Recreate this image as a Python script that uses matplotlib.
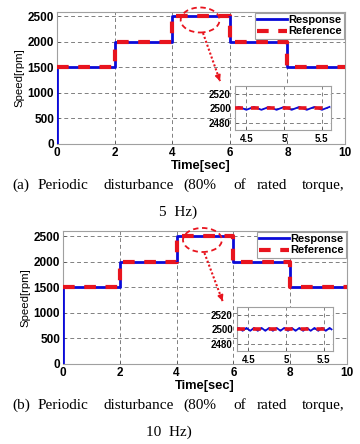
import matplotlib
matplotlib.use("Agg")
import matplotlib.pyplot as plt
from matplotlib.patches import Ellipse

# ----- data -----
ref_t = [0, 2, 2, 4, 4, 6, 6, 8, 8, 10]
ref_speed = [1500, 1500, 2000, 2000, 2500, 2500, 2000, 2000, 1500, 1500]
resp_t = [0, 0, 2, 2, 4, 4, 6, 6, 8, 8, 10]
resp_speed = [0, 1500, 1500, 2000, 2000, 2500, 2500, 2000, 2000, 1500, 1500]

# zoomed ripple around 2500 rpm (5 Hz disturbance)
zoom_t_a = [4.35, 4.40, 4.45, 4.50, 4.55, 4.60, 4.65, 4.70, 4.75, 4.80, 4.85, 4.90, 4.95,
            5.00, 5.05, 5.10, 5.15, 5.20, 5.25, 5.30, 5.35, 5.40, 5.45, 5.50, 5.55, 5.60]
zoom_v_a = [2500, 2502, 2500, 2498, 2500, 2502, 2500, 2498, 2500, 2502, 2500, 2498, 2500,
            2502, 2500, 2498, 2500, 2502, 2500, 2498, 2500, 2502, 2500, 2498, 2500, 2502]
# zoomed ripple around 2500 rpm (10 Hz disturbance)
zoom_t_b = [4.350, 4.375, 4.400, 4.425, 4.450, 4.475, 4.500, 4.525, 4.550, 4.575,
            4.600, 4.625, 4.650, 4.675, 4.700, 4.725, 4.750, 4.775, 4.800, 4.825,
            4.850, 4.875, 4.900, 4.925, 4.950, 4.975, 5.000, 5.025, 5.050, 5.075,
            5.100, 5.125, 5.150, 5.175, 5.200, 5.225, 5.250, 5.275, 5.300, 5.325,
            5.350, 5.375, 5.400, 5.425, 5.450, 5.475, 5.500, 5.525, 5.550, 5.575, 5.600]
zoom_v_b = [2500, 2502, 2500, 2498, 2500, 2502, 2500, 2498, 2500, 2502,
            2500, 2498, 2500, 2502, 2500, 2498, 2500, 2502, 2500, 2498,
            2500, 2502, 2500, 2498, 2500, 2502, 2500, 2498, 2500, 2502,
            2500, 2498, 2500, 2502, 2500, 2498, 2500, 2502, 2500, 2498,
            2500, 2502, 2500, 2498, 2500, 2502, 2500, 2498, 2500, 2502, 2500]

x_ticks = [0, 2, 4, 6, 8, 10]
y_ticks = [0, 500, 1000, 1500, 2000, 2500]
zoom_xticks = [4.5, 5, 5.5]
zoom_xlabels = ["4.5", "5", "5.5"]
zoom_yticks = [2480, 2500, 2520]

caption_words = ["Periodic", "disturbance", "(80%", "of", "rated", "torque,"]
caption_word_x = [38, 103, 183, 233, 257, 302]
captions = [("(a)", "5 Hz)"), ("(b)", "10 Hz)")]

BLUE = "#0a0ad8"
RED = "#e8141e"
FRAME = "#a0a0a0"
W, H = 360, 444

plt.rcParams["font.family"] = ["Liberation Sans", "DejaVu Sans"]

fig = plt.figure(figsize=(3.6, 4.44), dpi=100)


def px_axes(x0, y0, x1, y1):
    return fig.add_axes([x0 / W, 1 - y1 / H, (x1 - x0) / W, (y1 - y0) / H])


def style(ax, fs):
    for s in ax.spines.values():
        s.set_color(FRAME)
        s.set_linewidth(0.8)
    ax.tick_params(direction="in", length=2.5, width=0.6, color="#555555", labelsize=fs, pad=2)
    for lbl in ax.get_xticklabels() + ax.get_yticklabels():
        lbl.set_fontweight("bold")
    ax.grid(True, color="#808080", linestyle=(0, (4, 3)), linewidth=0.7)


def panel(main_box, inset_box, ylim_top, zt, zv, ell_xy, ell_wh, arr_start, arr_end):
    ax = px_axes(*main_box)
    ax.plot(resp_t, resp_speed, color=BLUE, lw=2.0, label="Response", zorder=3)
    ax.plot(ref_t, ref_speed, color=RED, lw=3.0, linestyle=(0, (2.8, 2.3)), label="Reference", zorder=4)
    ax.set_xlim(0, 10)
    ax.set_ylim(0, ylim_top)
    ax.set_xticks(x_ticks)
    ax.set_yticks(y_ticks)
    style(ax, 8.5)
    ax.set_xlabel("Time[sec]", fontsize=9.3, fontweight="bold", labelpad=1)
    ax.set_ylabel("Speed[rpm]", fontsize=8.2, labelpad=2)
    leg = ax.legend(loc="upper right", prop={"weight": "bold", "size": 8},
                    handlelength=2.7, handletextpad=0.15, borderpad=0.2, labelspacing=0.15,
                    borderaxespad=0.05, fancybox=False, framealpha=1)
    leg.get_frame().set_edgecolor(FRAME)
    leg.get_frame().set_linewidth(0.8)

    ax.add_patch(Ellipse(ell_xy, ell_wh[0], ell_wh[1], fill=False, edgecolor=RED, lw=1.3,
                         linestyle=(0, (3, 2)), clip_on=False, zorder=6))
    ax.plot([arr_start[0], arr_end[0]], [arr_start[1], arr_end[1]], color=RED, lw=1.5,
            linestyle=(0, (1, 1)), clip_on=False, zorder=6)
    ax.annotate("", xy=arr_end, xytext=(arr_end[0] - 0.06, arr_end[1] + 90),
                arrowprops=dict(arrowstyle="-|>", color=RED, lw=1.2, mutation_scale=8),
                annotation_clip=False, zorder=6)

    ins = px_axes(*inset_box)
    ins.plot(zt, zv, color=BLUE, lw=1.3, zorder=3)
    ins.plot([zt[0], zt[-1]], [2500, 2500], color=RED, lw=2.6, linestyle=(0, (2.2, 2.2)), zorder=4)
    ins.set_xlim(4.35, 5.62)
    ins.set_ylim(2470, 2531)
    ins.set_xticks(zoom_xticks)
    ins.set_xticklabels(zoom_xlabels)
    ins.set_yticks(zoom_yticks)
    style(ins, 7)
    ins.tick_params(pad=3)


panel((57, 12, 345, 144), (235, 86, 331, 130), 2580, zoom_t_a, zoom_v_a,
      (4.97, 2424), (1.35, 489), (5.07, 2170), (5.66, 1230))
panel((63, 231, 347, 364), (237, 307, 333, 351), 2600, zoom_t_b, zoom_v_b,
      (4.91, 2424), (1.37, 470), (4.98, 2170), (5.62, 1230))

# captions, words spread like the justified original
for (tag, tail), (y1, y2, xc) in zip(captions, [(185, 212, 178), (405, 432, 169)]):
    for word, x in zip([tag] + caption_words, [12] + caption_word_x):
        fig.text(x / W, 1 - y1 / H, word, fontsize=11, family="Liberation Serif",
                 ha="left", va="center")
    fig.text(xc / W, 1 - y2 / H, tail.replace(" ", "  "), fontsize=11,
             family="Liberation Serif", ha="center", va="center")

fig.savefig("out.png", dpi=100)
